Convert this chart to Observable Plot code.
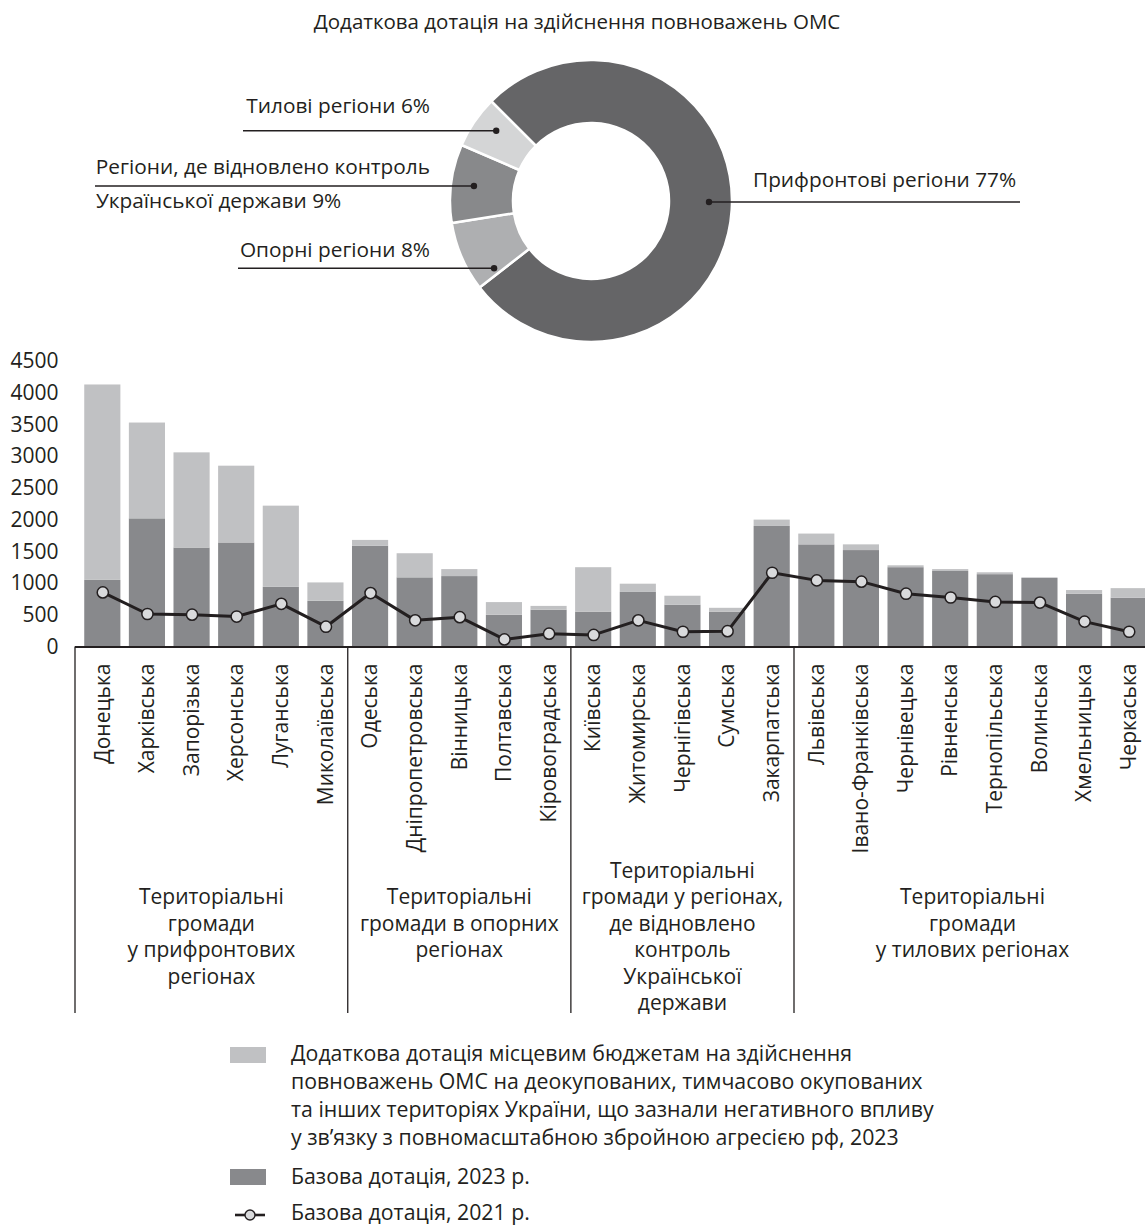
<!DOCTYPE html>
<html><head><meta charset="utf-8">
<script src="https://cdn.jsdelivr.net/npm/d3@7"></script>
<script src="https://cdn.jsdelivr.net/npm/@observablehq/plot@0.6"></script>
<style>
body{margin:0;background:#fff;}
#root{position:relative;width:1145px;height:1225px;overflow:hidden;font-family:"Open Sans",sans-serif;color:#231f20;}
#root svg{position:absolute;left:0;}
.lg{position:absolute;font-size:21.3px;line-height:28px;white-space:nowrap;color:#231f20;}
</style></head><body><div id="root"></div>
<script>
// ---------- data ----------
const regions = ["Донецька","Харківська","Запорізька","Херсонська","Луганська","Миколаївська",
  "Одеська","Дніпропетровська","Вінницька","Полтавська","Кіровоградська",
  "Київська","Житомирська","Чернігівська","Сумська","Закарпатська",
  "Львівська","Івано-Франківська","Чернівецька","Рівненська","Тернопільська","Волинська","Хмельницька","Черкаська"];
const base2023  = [1050,2020,1560,1640,940,720, 1590,1090,1110,500,580, 550,860,660,550,1900, 1610,1520,1250,1190,1140,1080,830,770];
const extra2023 = [3080,1510,1500,1210,1280,290, 90,380,110,200,60, 700,130,140,60,100, 170,90,30,30,30,10,60,150];
const base2021  = [860,520,510,480,680,320, 850,420,470,120,210, 190,420,240,250,1170, 1050,1030,840,780,710,700,400,240];
const groupSizes = [6,5,5,8];
const groupLabels = [
  ["Територіальні","громади","у прифронтових","регіонах"],
  ["Територіальні","громади в опорних","регіонах"],
  ["Територіальні","громади у регіонах,","де відновлено","контроль","Української","держави"],
  ["Територіальні","громади","у тилових регіонах"]
];
const yTicks = [0,500,1000,1500,2000,2500,3000,3500,4000,4500];
const seriesExtra = "Додаткова дотація місцевим бюджетам на здійснення повноважень ОМС на деокупованих, тимчасово окупованих та інших територіях України, що зазнали негативного впливу у зв’язку з повномасштабною збройною агресією рф, 2023";
const seriesBase23 = "Базова дотація, 2023 р.";
const seriesBase21 = "Базова дотація, 2021 р.";
const legendExtraLines = ["Додаткова дотація місцевим бюджетам на здійснення","повноважень ОМС на деокупованих, тимчасово окупованих","та інших територіях України, що зазнали негативного впливу","у зв’язку з повномасштабною збройною агресією рф, 2023"];

const donutTitle = "Додаткова дотація на здійснення повноважень ОМС";
const donutNames = ["Прифронтові регіони","Опорні регіони","Регіони, де відновлено контроль Української держави","Тилові регіони"];
const donutShares = [77,8,9,6];
const donutLabelLines = [["Прифронтові регіони 77%"],["Опорні регіони 8%"],["Регіони, де відновлено контроль","Української держави 9%"],["Тилові регіони 6%"]];

// ---------- styles ----------
const FONT = '"Open Sans", sans-serif';
const INK = "#231f20";
const C_LIGHT = "#c0c1c3", C_DARK = "#88898c", C_DOT = "#d9dadc";
const donutColors = ["#656567","#aeafb1","#88898b","#d4d5d6"];
const FS = 21;
const root = document.getElementById("root");

// ---------- donut ----------
const donutLayout = { // annotation placement (pixels)
  cx: 591, cy: 201, r0: 78, r1: 141, rDot: 118,
  ann: [
    {lineY: 202, side: "right", lineEnd: 1020, textX: 753, textY: [186.7], anchor: "start"},
    {lineY: 268.3, side: "left", lineEnd: 238, textX: 430, textY: [256.7], anchor: "end"},
    {lineY: 186, side: "left", lineEnd: 95, textX: [430, 96], textY: [174.3, 208.3], anchor: ["end","start"]},
    {lineY: 130.7, side: "left", lineEnd: 243, textX: 430, textY: [113.3], anchor: "end"}
  ]
};
const slices = donutNames.map((name, i) => ({name, share: donutShares[i], color: donutColors[i]}));
function donutMark() {
  const L = donutLayout;
  const g = d3.create("svg:g");
  const pie = d3.pie().sort(null).value(d => d.share).startAngle(-Math.PI/4).endAngle(2*Math.PI - Math.PI/4);
  const arc = d3.arc().innerRadius(L.r0).outerRadius(L.r1);
  g.append("g").attr("transform", `translate(${L.cx},${L.cy})`)
    .selectAll("path").data(pie(slices)).join("path")
    .attr("d", arc).attr("fill", d => d.data.color).attr("stroke", "#fff").attr("stroke-width", 2.5);
  L.ann.forEach((a, i) => {
    const dy = a.lineY - L.cy;
    const dx = Math.sqrt(L.rDot*L.rDot - dy*dy) * (a.side === "right" ? 1 : -1);
    const xd = L.cx + dx;
    g.append("line").attr("x1", xd).attr("x2", a.lineEnd).attr("y1", a.lineY).attr("y2", a.lineY)
      .attr("stroke", INK).attr("stroke-width", 1.6);
    g.append("circle").attr("cx", xd).attr("cy", a.lineY).attr("r", 3.2).attr("fill", INK);
    donutLabelLines[i].forEach((t, k) => {
      g.append("text").attr("x", Array.isArray(a.textX) ? a.textX[k] : a.textX).attr("y", a.textY[k])
        .attr("text-anchor", Array.isArray(a.anchor) ? a.anchor[k] : a.anchor)
        .attr("fill", INK).attr("font-size", 20.8).text(t);
    });
  });
  g.append("text").attr("x", 577).attr("y", 28.5).attr("text-anchor", "middle")
    .attr("fill", INK).attr("font-size", 20.5).text(donutTitle);
  return g.node();
}
const donutPlot = Plot.plot({
  width: 1145, height: 345, margin: 0,
  style: {fontFamily: FONT, background: "transparent"},
  marks: [donutMark]
});
donutPlot.style.top = "0px";
root.appendChild(donutPlot);

// ---------- bars ----------
const rows = regions.flatMap((r, i) => [
  {region: r, kind: seriesBase23, value: base2023[i]},
  {region: r, kind: seriesExtra, value: extra2023[i]}
]);
const line21 = regions.map((r, i) => ({region: r, value: base2021[i]}));

function groupMark(index, scales, values, dims) {
  const x = scales.x, y = scales.y;
  const step = x.step(), bw = x.bandwidth();
  const g = d3.create("svg:g");
  let start = 0;
  const bounds = [];
  groupSizes.forEach((n, gi) => {
    const left = gi === 0 ? dims.marginLeft : x(regions[start]) - (step - bw) / 2;
    const lastR = regions[start + n - 1];
    const right = x(lastR) + bw + (step - bw) / 2;
    bounds.push([left, right]);
    start += n;
  });
  const y0 = y(0), yBottom = dims.height - 27;
  bounds.forEach(([l]) => {
    g.append("line").attr("x1", l).attr("x2", l).attr("y1", y0).attr("y2", yBottom)
      .attr("stroke", INK).attr("stroke-width", 1.3);
  });
  const lh = 26.5, firstBase = 564; // baseline of first line (svg coords)
  groupLabels.forEach((lines, gi) => {
    const cx = (bounds[gi][0] + bounds[gi][1]) / 2;
    const shift = lines.length > 4 ? -1 : 0; // tall block starts one line higher
    lines.forEach((t, k) => {
      g.append("text").attr("x", cx).attr("y", firstBase + (k + shift) * lh)
        .attr("text-anchor", "middle").attr("fill", INK).attr("font-size", FS).text(t);
    });
  });
  return g.node();
}

const barPlot = Plot.plot({
  width: 1145, height: 700,
  marginLeft: 75, marginRight: 0, marginTop: 21, marginBottom: 393.5,
  style: {fontFamily: FONT, fontSize: FS + "px", color: INK, background: "transparent"},
  x: {type: "band", domain: regions, range: [80, 1151], round: false, paddingInner: 0.19, paddingOuter: 0.095, axis: null},
  y: {domain: [0, 4500], ticks: yTicks, tickSize: 0, tickPadding: 17, tickFormat: d => String(d), label: null},
  color: {domain: [seriesExtra, seriesBase23], range: [C_LIGHT, C_DARK]},
  marks: [
    Plot.barY(rows, {x: "region", y: "value", fill: "kind"}),
    Plot.ruleY([0], {stroke: INK, strokeWidth: 2}),
    Plot.line(line21, {x: "region", y: "value", stroke: INK, strokeWidth: 3}),
    Plot.dot(line21, {x: "region", y: "value", r: 5.6, fill: C_DOT, stroke: INK, strokeWidth: 1.5}),
    Plot.text(regions, {x: d => d, y: () => 0, text: d => d, rotate: -90, textAnchor: "end",
      lineAnchor: "middle", dy: 16.5, fontSize: FS, fill: INK}),
    groupMark
  ]
});
barPlot.style.top = "340px";
root.appendChild(barPlot);

// ---------- legend ----------
const lg = document.createElement("div");
lg.innerHTML = `
<svg width="1145" height="200" style="position:absolute;left:0;top:1030px">
  <rect x="230" y="17" width="36" height="16" fill="${C_LIGHT}"></rect>
  <rect x="230" y="139" width="36" height="16" fill="${C_DARK}"></rect>
  <line x1="235" x2="265" y1="185" y2="185" stroke="${INK}" stroke-width="2.6"></line>
  <circle cx="250" cy="185" r="5" fill="${C_DOT}" stroke="${INK}" stroke-width="1.4"></circle>
</svg>
<div class="lg" style="left:291px;top:1039.4px">${legendExtraLines.join("<br>")}</div>
<div class="lg" style="left:291px;top:1161.7px">${seriesBase23}</div>
<div class="lg" style="left:291px;top:1198.4px">${seriesBase21}</div>`;
root.appendChild(lg);
</script>
</body></html>
